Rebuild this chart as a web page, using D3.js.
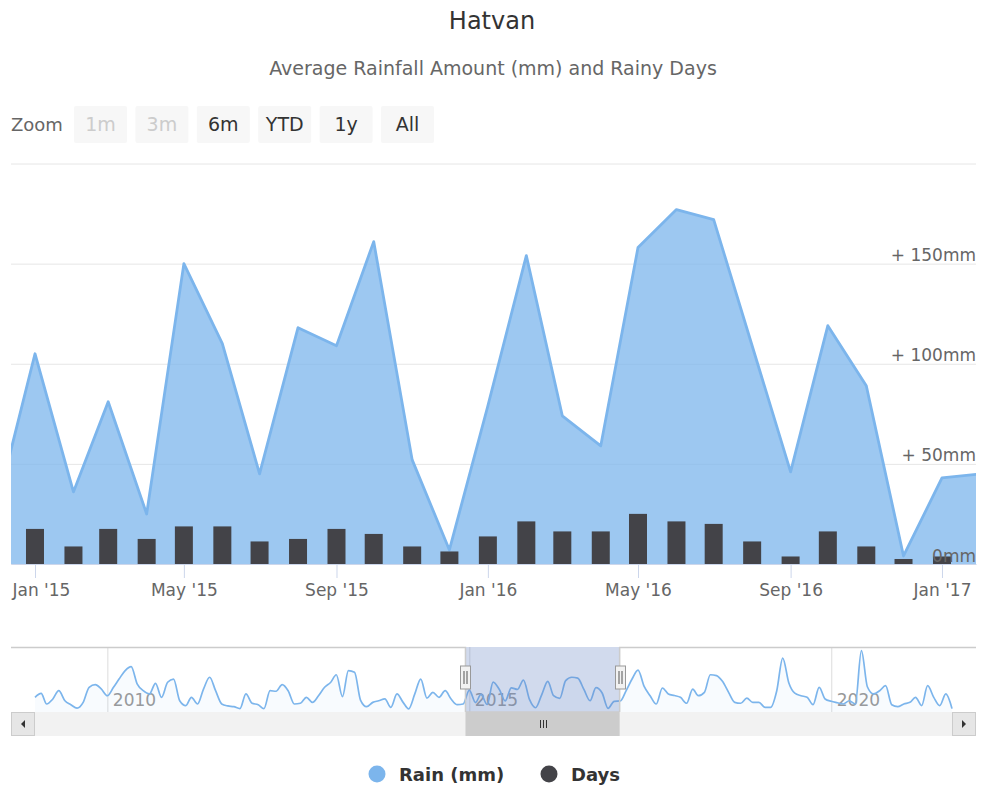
<!DOCTYPE html>
<html>
<head>
<meta charset="utf-8">
<script src="https://cdn.jsdelivr.net/npm/d3@7/dist/d3.min.js"></script>
<style>
  body { margin: 0; background: #ffffff; }
  svg text { font-family: "DejaVu Sans", Verdana, sans-serif; }
</style>
</head>
<body>
<div id="chart"></div>
<script>
// monthly series shown in the main chart, Dec 2014 .. Feb 2017
var firstMonth = Date.UTC(2014, 11, 1);
var rain = [28, 105, 36, 81, 25, 150, 110, 45, 118, 109, 161, 52, 7,
            79, 154, 74, 59, 158, 177, 172, 109, 46, 119, 89, 4,
            43, 45];
var days = [null, 14, 7, 14, 10, 15, 15, 9, 10, 14, 12, 7, 5,
            11, 17, 13, 13, 20, 17, 16, 9, 3, 13, 7, 2,
            3, null];

// navigator only: rain Jan 2009 .. Nov 2014 and Mar 2017 .. Sep 2021
var navFirstMonth = Date.UTC(2009, 0, 1);
var navRainBefore = [65, 87, 28, 56, 102, 46, 24, 5, 37, 121, 136, 112,
                     74, 121, 167, 214, 236, 139, 102, 84, 143, 65, 149, 167,
                     46, 19, 65, 28, 111, 177, 102, 28, 17, 13, 2, 84,
                     32, 24, 2, 102, 99, 136, 102, 28, 32, 65, 37, 74,
                     121, 149, 191, 69, 214, 205, 50, 13, 37, 46, 56, 9,
                     84, 37, 1, 84, 167, 61, 93, 65, 102, 56, 24];
var navRainAfter = [100, 167, 217, 126, 74, 28, 117, 84, 75, 65,
                    32, 111, 74, 93, 191, 186, 154, 93, 37, 32, 61, 37,
                    37, 9, 9, 102, 284, 145, 88, 74, 65, 24, 121, 56,
                    43, 35, 28, 46, 28, 325, 124, 84, 102, 130, 24, 13,
                    28, 37, 65, 19, 130, 65, 19, 84, 2];

// visible window of the main chart
var viewStart = Date.UTC(2014, 11, 12, 16);
var viewEnd = Date.UTC(2017, 0, 28, 10);

var yTickValues = [0, 50, 100, 150, 200];
var yTickLabels = ["0mm", "+ 50mm", "+ 100mm", "+ 150mm", ""];
var zoomButtons = ["1m", "3m", "6m", "YTD", "1y", "All"];
var zoomDisabled = [true, true, false, false, false, false];
var seriesNames = ["Rain (mm)", "Days"];
var seriesColors = ["#7cb5ec", "#434348"];

var W = 981, H = 788;
var plot = {left: 11, right: 976, top: 163, bottom: 564};
var nav = {left: 35, right: 952, top: 647, bottom: 712, scroll: 24};

var canvas = d3.select("#chart").append("svg")
  .attr("width", W).attr("height", H);

//data table
var mainData = rain.map(function(v, i) {
  return {date: d3.utcMonth.offset(new Date(firstMonth), i), rain: v, days: days[i]};
});
var navValues = navRainBefore.concat(rain, navRainAfter);
var navData = navValues.map(function(v, i) {
  return {date: d3.utcMonth.offset(new Date(navFirstMonth), i), rain: v};
});

//title + subtitle
canvas.append("text").attr("x", 492).attr("y", 29).attr("text-anchor", "middle")
  .attr("font-size", 24).attr("fill", "#333333").text("Hatvan");
canvas.append("text").attr("x", 493).attr("y", 75).attr("text-anchor", "middle")
  .attr("font-size", 19).attr("fill", "#666666").text("Average Rainfall Amount (mm) and Rainy Days");

//range selector
canvas.append("text").attr("x", 11).attr("y", 131)
  .attr("font-size", 18).attr("fill", "#666666").text("Zoom");
var btn = canvas.append("g").selectAll("g").data(zoomButtons).enter().append("g")
  .attr("transform", function(d, i) { return "translate(" + (74 + i * 61.4) + ",106)"; });
btn.append("rect").attr("width", 53).attr("height", 37).attr("rx", 2)
  .attr("fill", "#f7f7f7");
btn.append("text").attr("x", 26.5).attr("y", 25).attr("text-anchor", "middle")
  .attr("font-size", 19)
  .attr("fill", function(d, i) { return zoomDisabled[i] ? "#cccccc" : "#333333"; })
  .text(function(d) { return d; });

//scales
var x = d3.scaleUtc().domain([new Date(viewStart), new Date(viewEnd)]).range([plot.left, plot.right]);
var y = d3.scaleLinear().domain([0, 200]).range([plot.bottom, plot.top + 0.5]);
var yDays = d3.scaleLinear().domain([0, 160]).range([plot.bottom, plot.top]);

canvas.append("clipPath").attr("id", "plotClip").append("rect")
  .attr("x", plot.left).attr("y", plot.top - 5)
  .attr("width", plot.right - plot.left).attr("height", plot.bottom - plot.top + 5);

//grid
var grid = canvas.append("g").attr("transform", "translate(" + plot.right + ",0)")
  .call(d3.axisLeft(y).tickValues(yTickValues).tickSize(plot.right - plot.left).tickFormat(""));
grid.select(".domain").remove();
grid.selectAll("line").attr("stroke", "#e6e6e6");

var chartG = canvas.append("g").attr("clip-path", "url(#plotClip)");

var area = d3.area()
  .x(function(d) { return x(d.date); })
  .y0(y(0))
  .y1(function(d) { return y(d.rain); });
var line = d3.line()
  .x(function(d) { return x(d.date); })
  .y(function(d) { return y(d.rain); });

chartG.append("path").datum(mainData).attr("d", area)
  .attr("fill", seriesColors[0]).attr("fill-opacity", 0.75);
chartG.append("path").datum(mainData).attr("d", line)
  .attr("fill", "none").attr("stroke", seriesColors[0]).attr("stroke-width", 2.8)
  .attr("stroke-linejoin", "round");

//day columns
chartG.selectAll("rect.bar").data(mainData.filter(function(d) { return d.days != null; }))
  .enter().append("rect")
    .attr("class", "bar")
    .attr("x", function(d) { return x(d.date) - 9; })
    .attr("y", function(d) { return yDays(d.days); })
    .attr("width", 18)
    .attr("height", function(d) { return plot.bottom - yDays(d.days); })
    .attr("fill", seriesColors[1]);

//x axis
var xAxis = canvas.append("g").attr("transform", "translate(0," + plot.bottom + ")")
  .call(d3.axisBottom(x).ticks(d3.utcMonth.every(4)).tickFormat(d3.utcFormat("%b '%y"))
    .tickSize(14).tickSizeOuter(0).tickPadding(6));
xAxis.select(".domain").attr("stroke", "#ccd6eb");
xAxis.selectAll(".tick line").attr("stroke", "#ccd6eb");
xAxis.selectAll("text").attr("font-size", 17).attr("fill", "#666666")
  .attr("font-family", "DejaVu Sans, Verdana, sans-serif");
// keep the first label inside the chart like the original
xAxis.selectAll(".tick text").filter(function(d) { return x(d) - 30 < plot.left; })
  .attr("text-anchor", "start").attr("x", function(d) { return plot.left + 1 - x(d); });

//y labels
var yAxis = canvas.append("g").attr("transform", "translate(" + plot.right + ",0)")
  .call(d3.axisLeft(y).tickValues(yTickValues).tickSize(0)
    .tickFormat(function(d, i) { return yTickLabels[i]; }));
yAxis.select(".domain").remove();
yAxis.selectAll("text").attr("x", 0).attr("dy", -3)
  .attr("font-size", 17).attr("fill", "#666666")
  .attr("font-family", "DejaVu Sans, Verdana, sans-serif");

//navigator
var xNav = d3.scaleUtc().domain([navData[0].date, navData[navData.length - 1].date])
  .range([nav.left, nav.right]);
var yNav = d3.scaleLinear().domain([0, 340]).range([709, 648]);

var navGrid = canvas.append("g").attr("transform", "translate(0," + nav.bottom + ")")
  .call(d3.axisBottom(xNav).ticks(d3.utcYear.every(5)).tickFormat(d3.utcFormat("%Y"))
    .tickSize(-(nav.bottom - nav.top)).tickSizeOuter(0));
navGrid.select(".domain").remove();
navGrid.selectAll(".tick line").attr("stroke", "#dcdcdc");
navGrid.selectAll("text").attr("x", 5).attr("y", -6).attr("dy", 0)
  .attr("text-anchor", "start").attr("font-size", 17).attr("fill", "#999999")
  .attr("font-family", "DejaVu Sans, Verdana, sans-serif");

var navArea = d3.area().curve(d3.curveMonotoneX)
  .x(function(d) { return xNav(d.date); })
  .y0(nav.bottom)
  .y1(function(d) { return yNav(d.rain); });
var navLine = d3.line().curve(d3.curveMonotoneX)
  .x(function(d) { return xNav(d.date); })
  .y(function(d) { return yNav(d.rain); });
canvas.append("path").datum(navData).attr("d", navArea)
  .attr("fill", seriesColors[0]).attr("fill-opacity", 0.05);
canvas.append("path").datum(navData).attr("d", navLine)
  .attr("fill", "none").attr("stroke", seriesColors[0]).attr("stroke-width", 1.7);

var maskL = xNav(new Date(viewStart)), maskR = xNav(new Date(viewEnd));
canvas.append("rect").attr("x", maskL).attr("y", nav.top)
  .attr("width", maskR - maskL).attr("height", nav.bottom - nav.top)
  .attr("fill", "rgba(102,133,194,0.3)");

canvas.append("path")
  .attr("d", "M" + plot.left + "," + (nav.top + 0.5) + "H" + maskL + "V" + nav.bottom +
             "H" + maskR + "V" + (nav.top + 0.5) + "H" + plot.right)
  .attr("fill", "none").attr("stroke", "#cccccc").attr("stroke-width", 1.5);

//scrollbar
canvas.append("rect").attr("x", plot.left).attr("y", nav.bottom)
  .attr("width", plot.right - plot.left).attr("height", nav.scroll).attr("fill", "#f2f2f2");
canvas.append("rect").attr("x", maskL).attr("y", nav.bottom)
  .attr("width", maskR - maskL).attr("height", nav.scroll).attr("fill", "#cccccc");
[-3, 0, 3].forEach(function(o) {
  var cx = Math.round((maskL + maskR) / 2) + o + 0.5;
  canvas.append("line").attr("x1", cx).attr("x2", cx)
    .attr("y1", nav.bottom + 8).attr("y2", nav.bottom + 16)
    .attr("stroke", "#333333").attr("stroke-width", 1);
});
[plot.left, plot.right - nav.scroll].forEach(function(bx, i) {
  canvas.append("rect").attr("x", bx + 0.5).attr("y", nav.bottom + 0.5)
    .attr("width", nav.scroll - 1).attr("height", nav.scroll - 1)
    .attr("fill", "#e6e6e6").attr("stroke", "#cccccc");
  var cx = bx + nav.scroll / 2, cy = nav.bottom + nav.scroll / 2;
  var tri = i === 0
    ? "M" + (cx + 2) + "," + (cy - 4) + "L" + (cx - 2) + "," + cy + "L" + (cx + 2) + "," + (cy + 4) + "Z"
    : "M" + (cx - 2) + "," + (cy - 4) + "L" + (cx + 2) + "," + cy + "L" + (cx - 2) + "," + (cy + 4) + "Z";
  canvas.append("path").attr("d", tri).attr("fill", "#333333");
});

//handles
[maskL, maskR].forEach(function(hx) {
  var hxr = Math.round(hx) + 0.5;
  canvas.append("rect").attr("x", hxr - 5).attr("y", 666)
    .attr("width", 10).attr("height", 23)
    .attr("fill", "#f2f2f2").attr("stroke", "#999999");
  [-1.5, 1.5].forEach(function(o) {
    canvas.append("line").attr("x1", hxr + o).attr("x2", hxr + o)
      .attr("y1", 671).attr("y2", 684).attr("stroke", "#555555");
  });
});

//legend
var legendX = [377, 549];
var leg = canvas.append("g").selectAll("g").data(seriesNames).enter().append("g");
leg.append("circle").attr("cx", function(d, i) { return legendX[i]; }).attr("cy", 774)
  .attr("r", 8.5).attr("fill", function(d, i) { return seriesColors[i]; });
leg.append("text").attr("x", function(d, i) { return legendX[i] + 22; }).attr("y", 781)
  .attr("font-size", 18).attr("font-weight", "bold").attr("fill", "#333333")
  .text(function(d) { return d; });
</script>
</body>
</html>
